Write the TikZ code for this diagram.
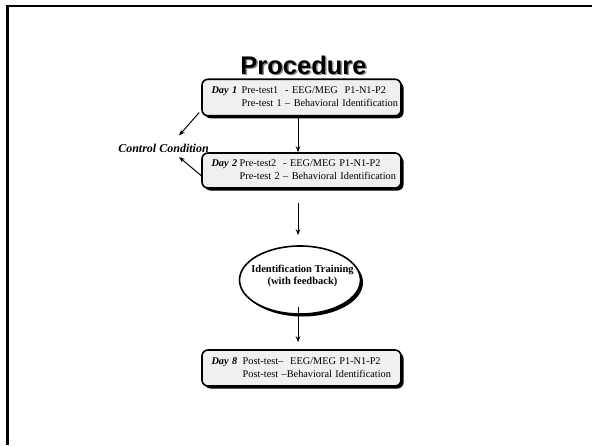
\documentclass[tikz,border=0pt]{standalone}
\usepackage{fontspec}
\setmainfont{Liberation Serif}
\newfontfamily\titlefont{Liberation Sans}
\usetikzlibrary{shapes.geometric,shadows,arrows.meta}
\tikzset{
  daybox/.style={draw=black, line width=1.6pt, rounded corners=6pt, fill=black!6,
    minimum width=199pt, text width=180pt, inner xsep=9.5pt, inner ysep=2pt, align=left,
    font=\fontsize{10.3}{13}\selectfont,
    drop shadow={shadow xshift=2.5pt, shadow yshift=-2.5pt, fill=black, opacity=1}},
  trainell/.style={ellipse, draw=black, line width=1.6pt, fill=white,
    minimum width=121pt, minimum height=68pt, inner sep=0pt,
    drop shadow={shadow xshift=2.5pt, shadow yshift=-2.5pt, fill=black, opacity=1}},
  arr/.style={line width=1pt, -{Stealth[length=6pt,width=4.5pt]}},
  frameline/.style={line width=2.5pt, black},
}
\begin{document}
\begin{tikzpicture}[x=1pt,y=-1pt]
\useasboundingbox (0,0) rectangle (592,445);
% frame
\coordinate (fa) at (7.5,445);
\coordinate (fb) at (7.5,6);
\coordinate (fc) at (592,6);
\draw[frameline] (fa) -- (fb) -- (fc);
% title
\node[text=black!45, font=\titlefont\bfseries\fontsize{25.5}{30}\selectfont] (titleshadow) at (305,66.5) {Procedure};
\node[font=\titlefont\bfseries\fontsize{25.5}{30}\selectfont] (title) at (303.5,65) {Procedure};
% boxes
\node[daybox, minimum height=36.5pt] (b1) at (301.5,97.5)
  {\begin{tabular}{@{}l@{\hspace{4.5pt}}l@{}}\textbf{\textit{Day 1}} & Pre-test1\ \ - EEG/MEG\ \ P1-N1-P2\\ & Pre-test 1 – Behavioral Identification\end{tabular}};
\node[daybox, minimum height=35pt] (b2) at (301.5,170.5)
  {\begin{tabular}{@{}l@{\hspace{2.5pt}}l@{}}\textbf{\textit{Day 2}} & Pre-test2\ \ - EEG/MEG P1-N1-P2\\ & Pre-test 2 – Behavioral Identification\end{tabular}};
\node[trainell] (tr) at (300,280) {};
\node[font=\bfseries\fontsize{10.5}{12.5}\selectfont, align=center] (trtext) at (302.5,276)
  {Identification Training\\(with feedback)};
\node[daybox, minimum height=36pt] (b8) at (301.5,368)
  {\begin{tabular}{@{}l@{\hspace{5.5pt}}l@{}}\textbf{\textit{Day 8}} & Post-test–\ \ EEG/MEG P1-N1-P2\\ & Post-test –Behavioral Identification\end{tabular}};
% control condition
\node[font=\bfseries\itshape\fontsize{12}{14}\selectfont] (cc) at (163.5,148) {Control Condition};
\coordinate (cc1) at (179,135.5);
\coordinate (cc2) at (179,157);
% arrows
\draw[arr] ([xshift=-3.5pt]b1.south) -- ([xshift=-3.5pt]b2.north);
\draw[arr, shorten <=14pt, shorten >=10pt] ([xshift=-3.5pt]b2.south) -- ([xshift=-2pt]tr.north);
\draw[arr, shorten <=-8pt, shorten >=7pt] ([xshift=-2pt]tr.south) -- ([xshift=-3.5pt]b8.north);
\draw[arr] ([xshift=-2pt,yshift=4pt]b1.south west) -- (cc1);
\draw[arr] ([xshift=1pt,yshift=-6pt]b2.west) -- (cc2);
\end{tikzpicture}
\end{document}
